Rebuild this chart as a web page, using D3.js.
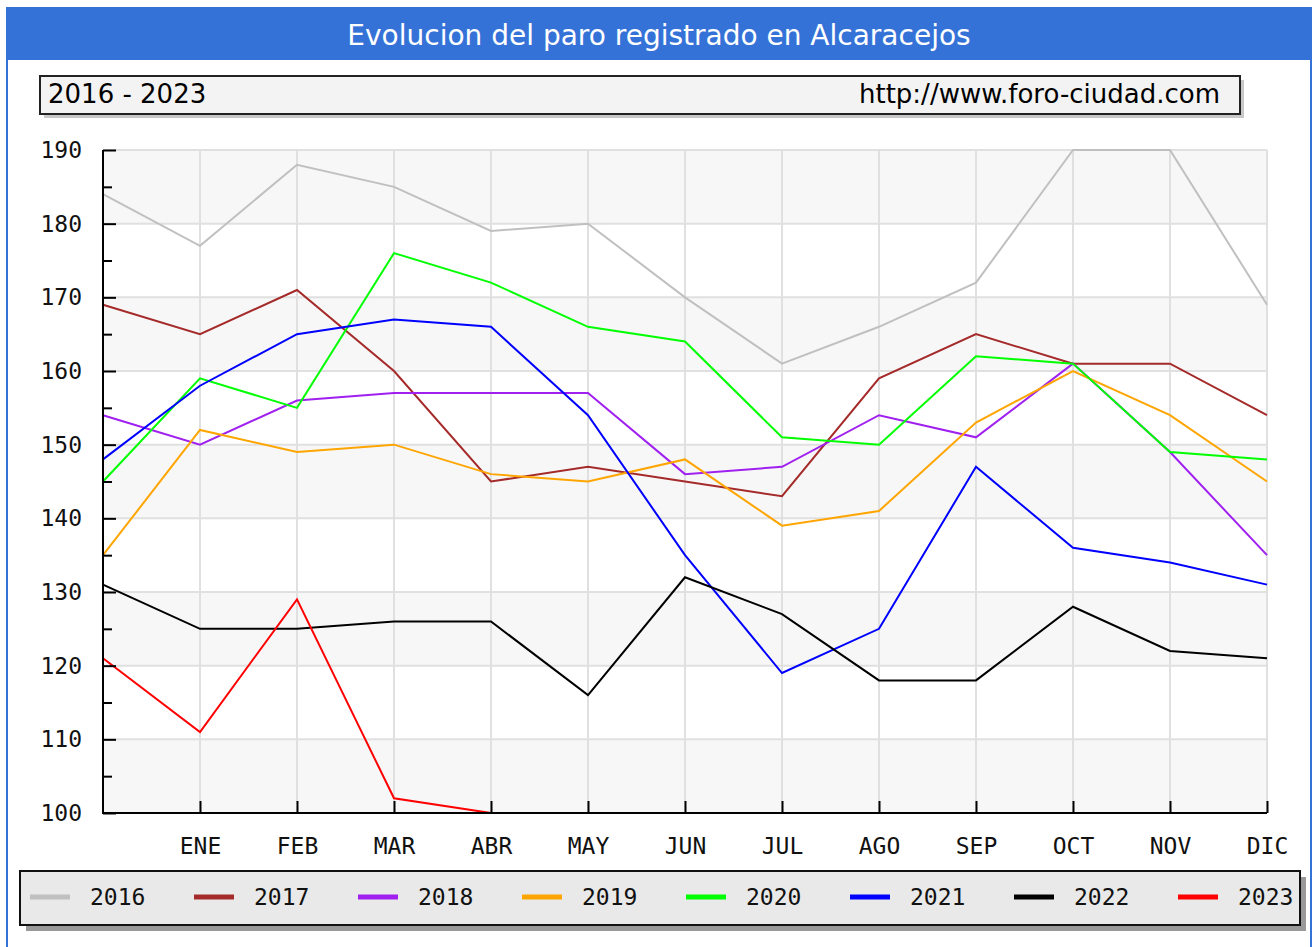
<!DOCTYPE html>
<html>
<head>
<meta charset="utf-8">
<script src="https://cdn.jsdelivr.net/npm/d3@7"></script>
<style>
  body { margin: 0; background: #fff; }
  svg { display: block; }
</style>
</head>
<body>
<svg id="chart" width="1316" height="947"></svg>
<script>
// month labels (index 0 is the previous december, unlabeled)
var months = ['', 'ENE', 'FEB', 'MAR', 'ABR', 'MAY', 'JUN', 'JUL', 'AGO', 'SEP', 'OCT', 'NOV', 'DIC'];
var years = ['2016', '2017', '2018', '2019', '2020', '2021', '2022', '2023'];
var colors = ['#c0c0c0', '#a52a2a', '#a020f0', '#ffa500', '#00ff00', '#0000ff', '#000000', '#ff0000'];

var v2016 = [184, 177, 188, 185, 179, 180, 170, 161, 166, 172, 190, 190, 169];
var v2017 = [169, 165, 171, 160, 145, 147, 145, 143, 159, 165, 161, 161, 154];
var v2018 = [154, 150, 156, 157, 157, 157, 146, 147, 154, 151, 161, 149, 135];
var v2019 = [135, 152, 149, 150, 146, 145, 148, 139, 141, 153, 160, 154, 145];
var v2020 = [145, 159, 155, 176, 172, 166, 164, 151, 150, 162, 161, 149, 148];
var v2021 = [148, 158, 165, 167, 166, 154, 135, 119, 125, 147, 136, 134, 131];
var v2022 = [131, 125, 125, 126, 126, 116, 132, 127, 118, 118, 128, 122, 121];
var v2023 = [121, 111, 129, 102, 100];

var yTicks = [100, 110, 120, 130, 140, 150, 160, 170, 180, 190];
var yMinor = [105, 115, 125, 135, 145, 155, 165, 175, 185];

var series = [v2016, v2017, v2018, v2019, v2020, v2021, v2022, v2023];

var svg = d3.select('#chart');

// outer frame + title bar
svg.append('rect')
    .attr('x', 7).attr('y', 8).attr('width', 1304).attr('height', 960)
    .attr('fill', '#fff').attr('stroke', '#3572d8').attr('stroke-width', 2);
svg.append('rect')
    .attr('x', 7).attr('y', 8).attr('width', 1304).attr('height', 52)
    .attr('fill', '#3572d8');
svg.append('text')
    .attr('x', 659).attr('y', 45)
    .attr('text-anchor', 'middle')
    .attr('fill', '#fff')
    .style('font-family', 'DejaVu Sans, Verdana, sans-serif')
    .style('font-size', '28px')
    .text('Evolucion del paro registrado en Alcaracejos');

// header box
svg.append('rect')
    .attr('x', 44).attr('y', 80).attr('width', 1200).attr('height', 38)
    .attr('fill', '#c8c8c8');
svg.append('rect')
    .attr('x', 40).attr('y', 76).attr('width', 1200).attr('height', 38)
    .attr('fill', '#f3f3f3').attr('stroke', '#222').attr('stroke-width', 2);
svg.append('text')
    .attr('x', 48).attr('y', 103)
    .style('font-family', 'DejaVu Sans, Verdana, sans-serif')
    .style('font-size', '26px')
    .text('2016 - 2023');
svg.append('text')
    .attr('x', 1220).attr('y', 103)
    .attr('text-anchor', 'end')
    .style('font-family', 'DejaVu Sans, Verdana, sans-serif')
    .style('font-size', '26px')
    .text('http://www.foro-ciudad.com');

// plot
var x = d3.scaleLinear().domain([0, 12]).range([103, 1267]);
var y = d3.scaleLinear().domain([100, 190]).range([813, 150]);

var plot = svg.append('g');

// alternating bands
plot.selectAll('rect.band')
    .data(yTicks.slice(0, -1))
    .enter()
    .append('rect')
    .attr('class', 'band')
    .attr('x', x(0))
    .attr('width', x(12) - x(0))
    .attr('y', function (d) { return y(d + 10); })
    .attr('height', function (d) { return y(d) - y(d + 10); })
    .attr('fill', function (d, i) { return i % 2 === 0 ? '#f7f7f7' : '#fff'; });

// grid
plot.selectAll('line.hgrid')
    .data(yTicks)
    .enter()
    .append('line')
    .attr('x1', x(0)).attr('x2', x(12))
    .attr('y1', function (d) { return y(d); })
    .attr('y2', function (d) { return y(d); })
    .attr('stroke', '#e0e0e0').attr('stroke-width', 2);
plot.selectAll('line.vgrid')
    .data(d3.range(1, 13))
    .enter()
    .append('line')
    .attr('x1', function (d) { return x(d); })
    .attr('x2', function (d) { return x(d); })
    .attr('y1', y(190)).attr('y2', y(100))
    .attr('stroke', '#e0e0e0').attr('stroke-width', 2);

// lines
var line = d3.line()
    .x(function (d, i) { return x(i); })
    .y(function (d) { return y(d); });

plot.selectAll('path.serie')
    .data(series)
    .enter()
    .append('path')
    .attr('class', 'serie')
    .attr('d', line)
    .attr('fill', 'none')
    .attr('stroke', function (d, i) { return colors[i]; })
    .attr('stroke-width', 2);

// axes
var yAxis = d3.axisLeft(y).tickValues(yTicks).tickSize(-13).tickPadding(21);
var yAxisMinor = d3.axisLeft(y).tickValues(yMinor).tickSize(-9).tickFormat('');
var xAxis = d3.axisBottom(x).tickValues(d3.range(1, 13)).tickSize(-12).tickPadding(25)
    .tickFormat(function (d) { return months[d]; });

function styleAxis(g) {
    g.select('.domain').remove();
    g.selectAll('line').attr('stroke', '#000').attr('stroke-width', 2);
    g.selectAll('text')
        .attr('fill', '#111')
        .style('font-family', 'DejaVu Sans Mono, monospace')
        .style('font-size', '23px');
}

svg.append('g').attr('transform', 'translate(' + x(0) + ',0)').call(yAxis).call(styleAxis);
svg.append('g').attr('transform', 'translate(' + x(0) + ',0)').call(yAxisMinor).call(styleAxis);
svg.append('g').attr('transform', 'translate(0,' + y(100) + ')').call(xAxis).call(styleAxis);

svg.append('path')
    .attr('d', 'M' + x(0) + ',' + y(190) + 'V' + y(100) + 'H' + x(12))
    .attr('fill', 'none').attr('stroke', '#000').attr('stroke-width', 2);

// legend
svg.append('rect')
    .attr('x', 26).attr('y', 877).attr('width', 1280).attr('height', 54)
    .attr('fill', '#999');
svg.append('rect')
    .attr('x', 20).attr('y', 871).attr('width', 1280).attr('height', 54)
    .attr('fill', '#e9e9e9').attr('stroke', '#111').attr('stroke-width', 2);

var legend = svg.selectAll('g.leg')
    .data(years)
    .enter()
    .append('g')
    .attr('class', 'leg')
    .attr('transform', function (d, i) { return 'translate(' + (30 + i * 164) + ',897)'; });

legend.append('line')
    .attr('x1', 0).attr('x2', 40)
    .attr('stroke', function (d, i) { return colors[i]; })
    .attr('stroke-width', 5);
legend.append('text')
    .attr('x', 60).attr('dy', '0.35em')
    .style('font-family', 'DejaVu Sans Mono, monospace')
    .style('font-size', '23px')
    .attr('fill', '#111')
    .text(String);
</script>
</body>
</html>
